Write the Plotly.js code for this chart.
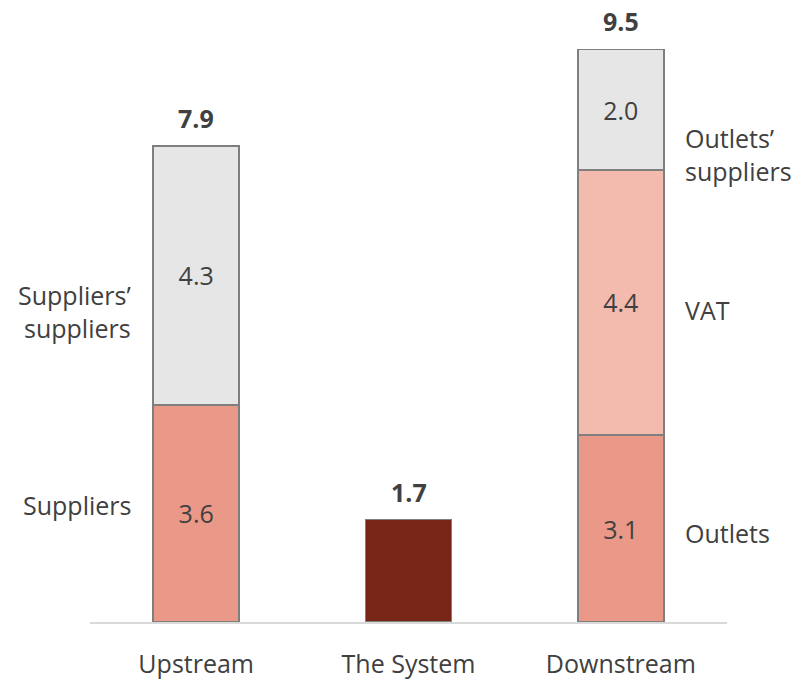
<!DOCTYPE html>
<html>
<head>
<meta charset="utf-8">
<script src="https://cdn.plot.ly/plotly-3.0.1.min.js"></script>
<style>
  html, body { margin: 0; padding: 0; background: #fff; }
  #chart { width: 797px; height: 680px; }
</style>
</head>
<body>
<div id="chart"></div>
<script>
const categories = ['Upstream', 'The System', 'Downstream'];
const bottomValues = [3.6, 1.7, 3.1];
const middleValues = [4.3, 0, 4.4];
const topValues = [0, 0, 2.0];
const bottomLabels = ['3.6', '', '3.1'];
const middleLabels = ['4.3', '', '4.4'];
const topLabels = ['', '', '2.0'];

// side labels: [category, text, y, side]
const sideLabels = [
  ['Upstream', 'Suppliers’<br>suppliers', 5.15, 'left'],
  ['Upstream', 'Suppliers', 1.94, 'left'],
  ['Downstream', 'Outlets’<br>suppliers', 7.75, 'right'],
  ['Downstream', 'VAT', 5.18, 'right'],
  ['Downstream', 'Outlets', 1.48, 'right']
];

const textColor = '#404040';
const outline = { color: '#7F7F7F', width: 1.5 };
const font = 'Open Sans, Noto Sans, sans-serif';
const fontSize = 25;

function segment(values, labels, colors) {
  return {
    type: 'bar',
    x: categories,
    y: values,
    text: labels,
    textposition: 'inside',
    insidetextanchor: 'middle',
    textangle: 0,
    textfont: { family: font, size: fontSize, color: textColor },
    marker: { color: colors, line: outline },
    width: 0.405,
    hoverinfo: 'x+y',
    showlegend: false
  };
}

const traces = [
  segment(bottomValues, bottomLabels, ['#EA9888', '#772516', '#EA9888']),
  segment(middleValues, middleLabels, ['#E6E6E6', '#E6E6E6', '#F3BBAE']),
  segment(topValues, topLabels, ['#E6E6E6', '#E6E6E6', '#E6E6E6'])
];

const totals = categories.map((c, i) => bottomValues[i] + middleValues[i] + topValues[i]);

const annotations = totals.map((t, i) => ({
  x: categories[i],
  y: t,
  xref: 'x',
  yref: 'y',
  text: '<b>' + t.toFixed(1) + '</b>',
  showarrow: false,
  yanchor: 'bottom',
  yshift: 9,
  font: { family: font, size: fontSize, color: textColor }
}));

sideLabels.forEach(s => {
  annotations.push({
    x: s[0],
    y: s[2],
    xref: 'x',
    yref: 'y',
    text: s[1],
    showarrow: false,
    align: s[3] == 'left' ? 'right' : 'left',
    xanchor: s[3] == 'left' ? 'right' : 'left',
    xshift: s[3] == 'left' ? -63 : 62,
    font: { family: font, size: fontSize, color: textColor }
  });
});

const layout = {
  width: 797,
  height: 680,
  margin: { l: 90, r: 70, t: 27, b: 58, pad: 0 },
  barmode: 'stack',
  paper_bgcolor: '#fff',
  plot_bgcolor: '#fff',
  showlegend: false,
  xaxis: {
    range: [-0.5, 2.5],
    showline: true,
    linecolor: '#D9D9D9',
    linewidth: 2,
    ticks: '',
    ticklabelstandoff: 19,
    tickfont: { family: font, size: fontSize, color: textColor },
    fixedrange: true
  },
  yaxis: {
    range: [0, 9.87],
    visible: false,
    showgrid: false,
    zeroline: false,
    fixedrange: true
  },
  annotations: annotations
};

Plotly.newPlot('chart', traces, layout, { displayModeBar: false, staticPlot: true });
</script>
</body>
</html>
